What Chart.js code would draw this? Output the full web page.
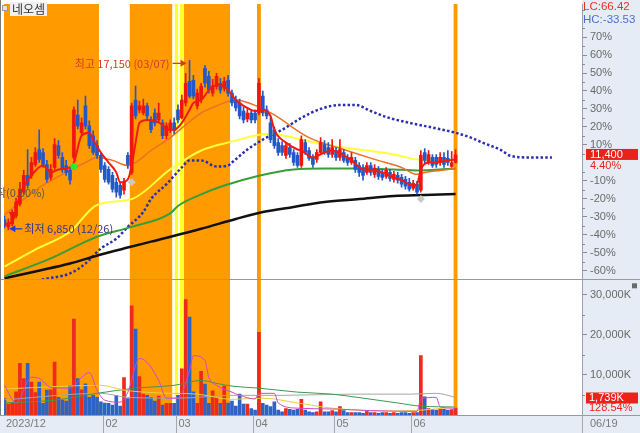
<!DOCTYPE html>
<html><head><meta charset="utf-8">
<script src="https://cdn.jsdelivr.net/npm/chart.js@4.4.1/dist/chart.umd.min.js"></script>
<style>html,body{margin:0;padding:0;background:#fff;overflow:hidden}#wrap{position:relative;width:640px;height:433px}</style>
</head><body><div id="wrap"><canvas id="c" width="640" height="433"></canvas></div>
<script>
// ---------------- DATA ----------------
const stockName = '네오셈';
const monthLabels = [[0,'2023/12'],[26,'02'],[45,'03'],[65,'04'],[86,'05'],[106,'06']];
const lastDateLabel = '06/19';
const highDateLabel = '03/07';
const lowDateLabel = '12/26';
const prevClose = 10920;           // 0% reference of the right axis
const volChangeLabel = '128.54%';
const pctTicks = [70,60,50,40,30,20,10,-10,-20,-30,-40,-50,-60];
const volTicks = [10000,20000,30000];

const openP = [7450,7030,7210,7690,8420,9140,10160,10160,10820,11730,
11550,10820,10040,10640,11970,11250,10760,10460,11250,13830,
12750,14380,13170,12570,11970,11370,10760,10520,10160,9740,
9560,9260,11370,10340,14740,14140,13950,14380,13530,13950,
13530,13350,12570,12930,13350,14140,13650,14560,15880,15940,
14380,14740,16660,16180,15160,15580,15760,15460,15940,15160,
14740,14560,14070,13590,13950,13950,13950,14980,14140,13350,
12930,12150,11970,11370,11850,11550,11370,10760,12150,11670,
11250,11130,11550,12030,11850,11430,11670,11250,11550,11250,
10940,11070,10760,10640,10340,10760,10220,10520,10340,10100,
10340,9920,10160,10040,9920,9740,9380,9620,9260,11550,
10940,11250,11250,10940,11250,11190,10700,10950];
const highP = [7690,7510,8050,8780,9740,10460,11730,11250,11850,12930,
11790,11070,10820,12390,12270,11550,11070,10640,14320,14740,
13650,14980,13470,12870,12270,11550,10940,10700,10340,9980,
9740,9980,11550,14560,15580,14680,14800,14560,13710,14200,
14560,13530,13350,13530,13650,14440,15040,16360,17150,16240,
15400,15760,16840,16480,16000,16360,16060,16120,16240,15340,
14980,14800,14320,14200,14140,14140,16060,15280,14380,13650,
13110,12390,12210,12150,12090,11730,11550,12570,12330,11850,
11430,11730,12450,12270,12150,12330,11850,12330,11730,11430,
11550,11250,10940,10820,10940,10940,10820,10700,10520,10640,
10520,10400,10340,10220,10100,9980,9860,9800,11670,11790,
11670,11430,11430,11550,11550,11670,11610,11730];
const lowP = [6970,6850,7090,7570,8300,9020,9380,9980,10700,10940,
10640,9740,9860,10520,11190,10340,10160,9620,11130,12990,
12570,12990,11790,11430,11190,10340,9740,9620,9140,8840,
8780,9020,10580,10220,13590,13950,13830,13590,12750,13170,
13350,12390,12390,12750,12690,13350,13590,14380,14860,14800,
14200,14560,15520,15160,14980,15400,15160,15280,14980,14380,
14070,13590,13350,13410,13350,13350,13830,13770,13590,12150,
11790,11370,11370,11190,11250,10760,10640,10640,11430,11070,
10640,10940,11430,11430,11250,11250,11070,11070,10940,10760,
10820,10340,10100,9860,10220,10160,10040,9920,9860,9980,
9800,9740,9680,9440,9320,9200,9260,9020,9140,10820,
10820,10640,10640,10760,10640,10760,10640,10900];
const closeP = [7090,7270,7810,8540,9320,10160,9560,10940,11550,11130,
10820,9920,10520,12030,11370,10520,10340,9860,14140,13170,
13350,13170,11970,11550,11370,10520,9920,9740,9320,9140,
8960,9740,10820,14380,13770,14380,14380,13770,12930,13350,
13950,12570,13170,13350,12870,13530,14740,15760,14980,14980,
15160,15580,15760,15340,15580,16180,15340,15880,15160,14560,
14260,13770,13530,13950,13530,13530,15760,13950,13770,12330,
11970,11550,11550,11970,11430,10940,10760,12330,11550,11190,
10820,11550,12150,11550,11430,11850,11250,11730,11070,10940,
11250,10520,10340,10160,10760,10340,10580,10100,10040,10460,
9980,10220,9860,9620,9500,9320,9680,9140,11370,11070,
11430,10760,10820,11250,10820,10940,10920,11400];
const volumeK = [4100,2700,2900,5800,12900,9100,12900,8200,5600,8200,
2900,6200,6300,13200,4400,3700,3500,7400,23900,9100,
6300,7800,4400,4900,4400,3300,3000,2900,2500,4900,
2200,9300,4100,27200,21400,9600,5200,4900,4400,3500,
4700,2500,2900,2900,2900,4900,11500,28800,24400,5800,
2900,10900,7700,2900,6000,4400,2900,7200,3000,3500,
2200,5200,2700,2700,1600,1200,20600,2900,2500,2100,
3300,1200,800,1600,1400,1200,1400,3900,1200,800,
600,800,3300,800,800,1100,800,2100,1100,600,
600,600,600,400,1100,600,600,400,600,600,
400,600,400,600,600,400,600,600,14800,4500,
1600,1400,1200,1600,1400,1200,1353,1739];

// moving averages: [bar index, value]
const ma5 = [[0,7200],[2,7330],[4,8960],[7,10160],[10,10760],[12,10340],[14,10520],[17,10640],[18,10940],[20,12570],[22,12750],[23,12330],[25,11550],[27,10940],[29,10340],[30,9740],[32,9920],[33,10760],[34,12150],[35,13350],[37,13530],[39,13470],[41,13230],[42,12930],[44,12930],[46,13350],[48,14140],[49,14560],[51,14740],[53,15340],[54,15580],[56,15640],[58,15350],[60,14740],[63,14260],[65,14070],[67,14140],[69,13770],[70,12930],[73,12150],[76,11730],[77,11670],[80,11250],[83,11550],[85,11670],[88,11370],[90,11070],[93,10520],[95,10460],[98,10340],[101,10040],[103,9860],[106,9560],[107,9620],[108,10520],[110,10940],[112,10940],[115,11070],[117,11130]];
const ma20 = [[0,7750],[5,8720],[10,9560],[15,10220],[18,10580],[21,10940],[24,11250],[28,11070],[32,10760],[34,10940],[38,11670],[43,12450],[47,13230],[51,13950],[55,14380],[60,14740],[66,14320],[70,13830],[79,12450],[88,11730],[96,11130],[103,10640],[107,10220],[109,10340],[113,10460],[117,10580]];
const ma60 = [[0,4620],[8,5650],[17,6730],[24,8360],[33,8720],[43,10520],[51,11670],[60,12270],[66,12630],[69,12690],[75,12450],[83,12030],[92,11730],[101,11430],[107,11130],[117,11070]];
const ma120 = [[0,4020],[12,5110],[21,6130],[24,6430],[33,7030],[43,7850],[45,8300],[51,9000],[57,9540],[66,10140],[75,10520],[83,10580],[92,10580],[101,10520],[107,10460],[117,10580]];
const ma240 = [[0,3900],[8,4320],[17,4800],[25,5350],[33,5830],[38,6130],[51,6910],[60,7510],[67,7930],[75,8240],[83,8540],[92,8720],[101,8900],[109,8960],[117,9020]];
const leadSpan = [[5,3500],[10,3840],[17,4200],[21,4800],[25,5710],[29,6310],[32,7030],[36,7930],[38,8720],[42,9620],[46,10640],[48,11070],[51,11070],[55,10700],[58,10760],[59,10940],[63,11730],[67,12330],[72,12930],[77,13650],[82,14200],[87,14440],[91,14440],[95,14070],[99,13710],[105,13350],[110,13110],[117,12750],[121,12450],[124,12150],[129,11670],[131,11370],[136,11250],[142,11250]];
const vma5 = [[0,7400],[3,3000],[7,9400],[9,9100],[12,6900],[17,6700],[20,9400],[22,10600],[24,6200],[26,3700],[30,3200],[32,5700],[35,14100],[37,13100],[40,8600],[42,4200],[45,4200],[48,11100],[49,14800],[52,13600],[53,9400],[55,7400],[59,5700],[61,4900],[65,4000],[66,5400],[70,5400],[71,3000],[76,1700],[85,1500],[95,1100],[107,900],[108,4000],[112,4400],[113,2000],[117,1700]];
const vmaYellow = [[0,6500],[25,7400],[31,6200],[40,5500],[50,5200],[59,3900],[67,4200],[76,3000],[85,1700],[98,1000],[108,1200],[117,2000]];
const vmaGreen = [[0,3000],[13,3700],[24,5400],[34,6700],[37,6900],[44,7400],[51,8600],[55,7900],[59,7200],[66,6700],[76,5700],[85,5200],[93,4200],[102,3000],[108,2200],[117,2000]];
const vmaGrey = [[0,3800],[25,5400],[32,4400],[45,4200],[59,4900],[72,4900],[90,5200],[105,5200],[112,5400],[117,4400]];

const signalGreen = [[18,10700]];
const signalGrey = [[33,9740],[108,8720]];
const lowArrowMark = [[2,7810]];
const startLabelPrice = 9080;

const orangeBands = [[0,24],[33,43],[47,58],[66,66],[117,117]];
const yellowBands = [44.6,45.9];

// ---------------- CHART ----------------
const UP='#f0160c', DOWN='#2458c8', VUP='#ec2a1e', VDOWN='#2d62c6';
const ORANGE='#ff9a00', AXISBG='#e5ecf5';
const FONT="'Liberation Sans','Noto Sans CJK KR',sans-serif";
const KFONT="'Noto Sans CJK KR','Liberation Sans',sans-serif";
const idx = closeP.map((_,i)=>i);
const up = i => closeP[i] >= openP[i];
const pts = a => a.map(([x,y])=>({x,y}));
const fmt = v => v.toLocaleString('en-US');

function lineDS(data, color, width, order, axis, extra) {
  return Object.assign({type:'line', data:pts(data), borderColor:color, borderWidth:width, pointRadius:0,
    cubicInterpolationMode:'monotone', fill:false, order, yAxisID:axis}, extra||{});
}

const datasets = [
  {type:'line', data:pts(signalGreen), showLine:false, pointRadius:3.5, pointBackgroundColor:'#2ee82e', pointBorderWidth:0, order:-2, yAxisID:'y'},
  {type:'line', data:pts(signalGrey), showLine:false, pointStyle:'rectRot', pointRadius:4, pointBackgroundColor:'#c9c9c9', pointBorderWidth:0, order:-2, yAxisID:'y'},
  {type:'line', data:pts(lowArrowMark), showLine:false, pointStyle:'triangle', rotation:180, pointRadius:4, pointBackgroundColor:'#f0160c', pointBorderWidth:0, order:-2, yAxisID:'y'},
  lineDS(ma5, '#f21a0e', 2, 0, 'y'),
  {type:'bar', data: idx.map(i=>({x:i, y:[openP[i], closeP[i]]})), backgroundColor:c=>up(c.dataIndex)?UP:DOWN,
    barThickness:3, grouped:false, minBarLength:1, order:1, yAxisID:'y'},
  {type:'bar', data: idx.map(i=>({x:i, y:[lowP[i], highP[i]]})), backgroundColor:c=>up(c.dataIndex)?UP:DOWN,
    barThickness:1, grouped:false, order:2, yAxisID:'y'},
  lineDS(ma20, '#f07024', 1.5, 3, 'y'),
  lineDS(ma60, '#ffff3c', 2, 4, 'y'),
  lineDS(ma120, '#3a9e38', 2, 5, 'y'),
  lineDS(ma240, '#111111', 2.5, 6, 'y'),
  lineDS(leadSpan, '#2b2fae', 2.5, 7, 'y', {borderDash:[2.5,2.2]}),
  lineDS(vma5, '#d048c8', 1, 0, 'yv'),
  lineDS(vmaYellow, '#e6cf3a', 1, 0, 'yv'),
  lineDS(vmaGreen, '#3a9a52', 1, 0, 'yv'),
  lineDS(vmaGrey, '#a6a6a6', 1, 0, 'yv'),
  {type:'bar', data: idx.map(i=>({x:i, y:volumeK[i]})), backgroundColor:c=>up(c.dataIndex)?VUP:VDOWN,
    barThickness:3, grouped:false, order:9, yAxisID:'yv'}
];

function arrow(ctx, x1, y1, x2, y2, color) {
  ctx.strokeStyle=color; ctx.fillStyle=color; ctx.lineWidth=1.3;
  ctx.beginPath(); ctx.moveTo(x1,y1); ctx.lineTo(x2,y2); ctx.stroke();
  const d = Math.sign(x2-x1);
  ctx.beginPath(); ctx.moveTo(x2+d,y2); ctx.lineTo(x2-d*5,y2-3.5); ctx.lineTo(x2-d*5,y2+3.5); ctx.closePath(); ctx.fill();
}

const overlay = {
  id:'overlay',
  beforeDraw(chart){
    const {ctx,width,height,chartArea:a} = chart;
    ctx.save();
    ctx.fillStyle='#fff'; ctx.fillRect(0,0,width,height);
    ctx.fillStyle=AXISBG; ctx.fillRect(a.right,0,width-a.right,height);
    ctx.fillRect(0,a.bottom,width,height-a.bottom);
    ctx.restore();
  },
  beforeDatasetsDraw(chart){
    const {ctx,chartArea:a,scales:{x}} = chart;
    ctx.save(); ctx.beginPath(); ctx.rect(a.left,a.top,a.right-a.left,a.bottom-a.top); ctx.clip();
    ctx.fillStyle=ORANGE;
    orangeBands.forEach(([s,e])=>{const x0=x.getPixelForValue(s-0.5), x1=x.getPixelForValue(e+0.5); ctx.fillRect(x0,a.top,x1-x0,a.bottom-a.top);});
    ctx.fillStyle='#ffff30';
    yellowBands.forEach(c=>{const x0=x.getPixelForValue(c-0.42), x1=x.getPixelForValue(c+0.42); ctx.fillRect(x0,a.top,x1-x0,a.bottom-a.top);});
    ctx.restore();
  },
  afterDatasetsDraw(chart){
    const {ctx,width,height,chartArea:a,scales:{x,y,yv}} = chart;
    ctx.save();
    ctx.strokeStyle='#9a9a9a'; ctx.lineWidth=1;
    ctx.beginPath(); ctx.moveTo(0,Math.round(y.bottom)+0.5); ctx.lineTo(width,Math.round(y.bottom)+0.5); ctx.stroke();
    ctx.beginPath(); ctx.moveTo(0,a.bottom+0.5); ctx.lineTo(width,a.bottom+0.5); ctx.stroke();
    ctx.strokeStyle='#7a7a7a';
    ctx.beginPath(); ctx.moveTo(0.5,0); ctx.lineTo(0.5,a.bottom); ctx.stroke();
    ctx.strokeStyle='#8d8d8d';
    for (let k=-65;k<=85;k+=10){ const py=y.getPixelForValue(prevClose*(1+k/100)); if(py>y.top&&py<y.bottom){ctx.beginPath();ctx.moveTo(a.right,Math.round(py)+0.5);ctx.lineTo(a.right+3,Math.round(py)+0.5);ctx.stroke();}}
    for (let v=5000;v<=35000;v+=10000){ const py=yv.getPixelForValue(v); if(py>yv.top&&py<yv.bottom){ctx.beginPath();ctx.moveTo(a.right,Math.round(py)+0.5);ctx.lineTo(a.right+3,Math.round(py)+0.5);ctx.stroke();}}
    ctx.font='11px '+FONT; ctx.fillStyle='#7a7a7a'; ctx.textBaseline='middle'; ctx.textAlign='left';
    ctx.strokeStyle='#a8a8a8';
    monthLabels.forEach(([i,t])=>{
      const sx = i===0 ? a.left : Math.round(x.getPixelForValue(i-0.45))+0.5;
      if(i!==0){ctx.beginPath();ctx.moveTo(sx,a.bottom);ctx.lineTo(sx,height);ctx.stroke();}
      ctx.fillText(t, sx+2, a.bottom+9);
    });
    ctx.beginPath();ctx.moveTo(a.right+0.5,a.bottom);ctx.lineTo(a.right+0.5,height);ctx.stroke();
    ctx.fillText(lastDateLabel, a.right+8, a.bottom+9);
    const last = closeP[closeP.length-1];
    const lo = Math.min(...lowP), hi = Math.max(...highP);
    ctx.font='11.5px '+FONT;
    ctx.fillStyle='#e8301e'; ctx.fillText('LC:'+((last/lo-1)*100).toFixed(2), a.right+1, 7);
    ctx.fillStyle='#4a70c8'; ctx.fillText('HC:'+((last/hi-1)*100).toFixed(2), a.right+1, 19.5);
    ctx.font='11px '+FONT;
    const py = y.getPixelForValue(last);
    ctx.fillStyle='#e8241a'; ctx.fillRect(a.right+4, py-6, 52, 11);
    ctx.fillStyle='#fff'; ctx.fillText(fmt(last), a.right+8, py);
    ctx.fillStyle='#e8241a'; ctx.fillText(((last/prevClose-1)*100).toFixed(2)+'%', a.right+8, py+11);
    const lastV = volumeK[volumeK.length-1];
    const vy = Math.min(yv.getPixelForValue(lastV), yv.bottom-17);
    ctx.fillStyle='#e8241a'; ctx.fillRect(a.right+4, vy-5.5, 52, 11);
    ctx.fillStyle='#fff'; ctx.fillText(fmt(lastV)+'K', a.right+7, vy);
    ctx.fillStyle='#e8241a'; ctx.fillText(volChangeLabel, a.right+7, vy+10);
    ctx.fillStyle='#6a6a6a'; ctx.fillRect(width-8, yv.top+4, 5, 5);
    ctx.fillStyle='#e2e2e2'; ctx.strokeStyle='#9a9a9a';
    ctx.fillRect(2.5,5.5,5,5); ctx.strokeRect(2.5,5.5,5,5);
    ctx.fillStyle='#f0f0f0'; ctx.fillRect(10,2,37,14);
    ctx.font='12px '+KFONT; ctx.fillStyle='#333'; ctx.fillText(stockName, 12, 9.5);
    const hiI = highP.indexOf(hi), loI = lowP.indexOf(lo);
    const hx = x.getPixelForValue(hiI), hy = y.getPixelForValue(hi);
    ctx.font='11px '+KFONT; ctx.fillStyle='#d83a28'; ctx.textAlign='right';
    ctx.fillText('최고 '+fmt(hi)+' ('+highDateLabel+')', hx-20, hy+3);
    arrow(ctx, hx-17, hy+3, hx-4, hy+3, '#d83a28');
    const lx = x.getPixelForValue(loI), ly = y.getPixelForValue(lo);
    arrow(ctx, lx+14, ly-1, lx+2, ly-1, '#1f3ee0');
    ctx.textAlign='left'; ctx.fillStyle='#34348a';
    ctx.fillText('최저 '+fmt(lo)+' ('+lowDateLabel+')', lx+16, ly-1);
    ctx.fillStyle='#555'; ctx.textAlign='right';
    ctx.fillText('시작(0.00%)', 45, y.getPixelForValue(startLabelPrice));
    ctx.restore();
  }
};

Chart.defaults.font.family = FONT;
new Chart(document.getElementById('c'), {
  type:'bar',
  data:{datasets},
  options:{
    responsive:false, animation:false, devicePixelRatio:1, events:[],
    layout:{padding:{left:2,right:0,top:0,bottom:18}},
    plugins:{legend:{display:false},tooltip:{enabled:false}},
    scales:{
      x:{type:'linear', min:-0.13, max:149.8, offset:false, display:false},
      y:{position:'right', stack:'panes', stackWeight:278, min:3840, max:20576,
        afterFit(s){s.width=58; s.paddingTop=0; s.paddingBottom=0;},
        afterBuildTicks(s){s.ticks = pctTicks.map(k=>({value:prevClose*(1+k/100)}));},
        ticks:{autoSkip:false, color:'#6a6a6a', font:{size:11}, padding:3,
          callback:v=>Math.round((v/prevClose-1)*100)+'%'},
        grid:{drawOnChartArea:false, tickLength:5, color:'#8d8d8d'},
        border:{color:'#9aa3ad'}},
      yv:{position:'right', stack:'panes', stackWeight:137, min:0, max:33830,
        afterFit(s){s.width=58; s.paddingTop=0; s.paddingBottom=0;},
        afterBuildTicks(s){s.ticks = volTicks.map(v=>({value:v}));},
        ticks:{autoSkip:false, color:'#6a6a6a', font:{size:11}, padding:3,
          callback:v=>fmt(v)+'K'},
        grid:{drawOnChartArea:false, tickLength:5, color:'#8d8d8d'},
        border:{color:'#9aa3ad'}}
    }
  },
  plugins:[overlay]
});
</script></body></html>
